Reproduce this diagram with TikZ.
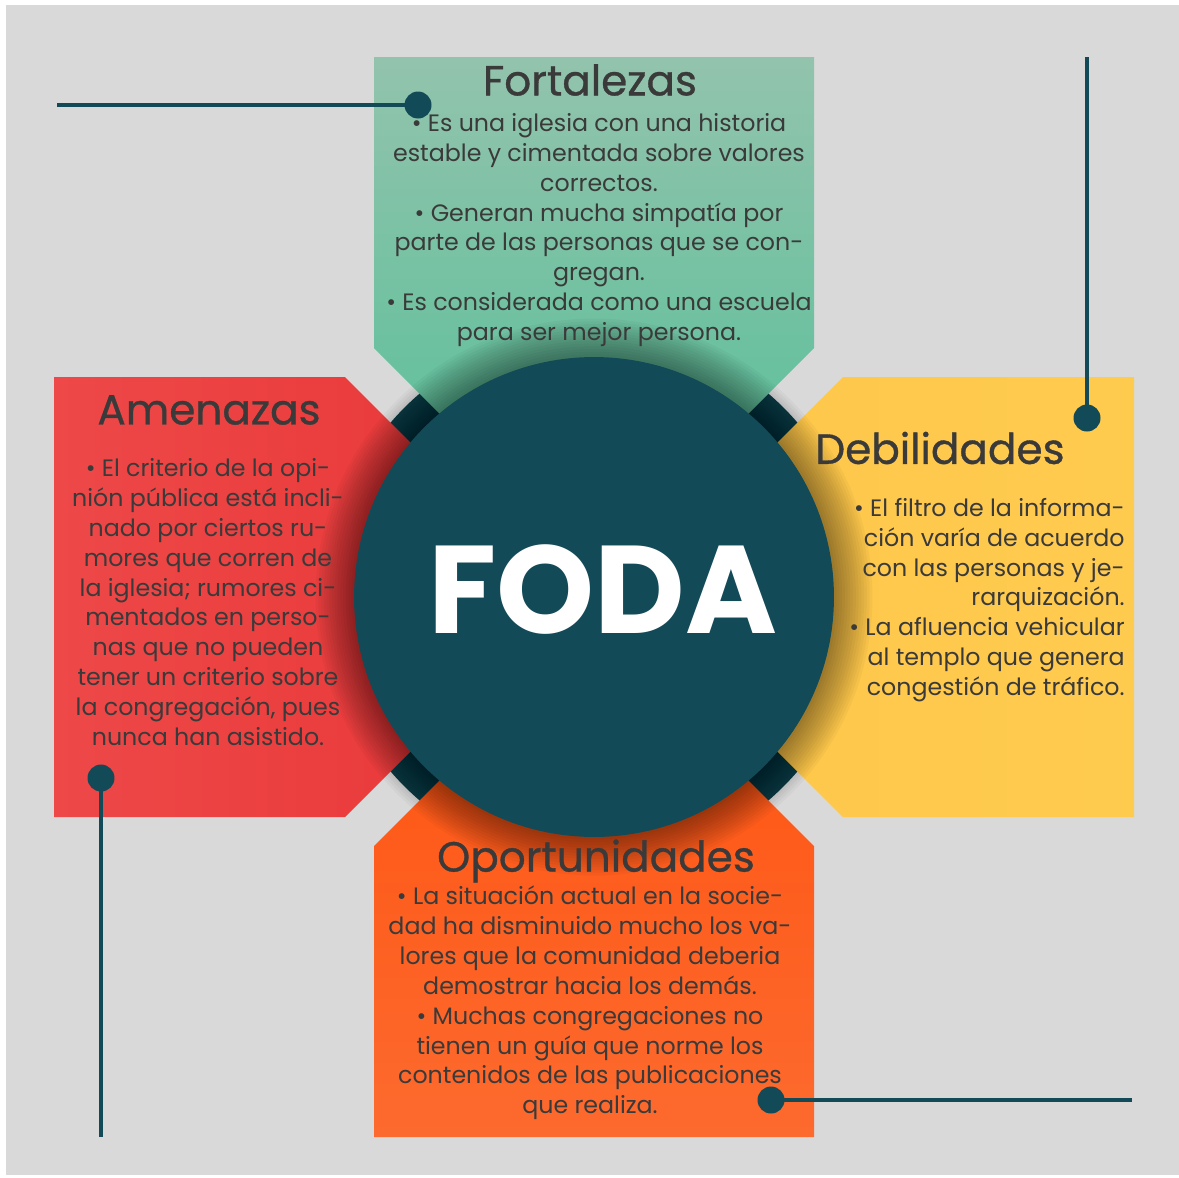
\documentclass[tikz,border=0pt]{standalone}
\usepackage{fontspec}
\setmainfont{Poppins}
\newfontfamily\titlefont{Poppins}[FakeBold=0.8]
\usetikzlibrary{positioning}

\definecolor{fodaTeal}{HTML}{134A57}
\definecolor{fodaRing}{HTML}{0D3B46}
\definecolor{fodaBg}{HTML}{D9D9D9}
\definecolor{fodaInk}{HTML}{3A3A3A}
\definecolor{greenTop}{HTML}{93C3AD}
\definecolor{greenBot}{HTML}{4FC096}
\definecolor{redLeft}{HTML}{EE4848}
\definecolor{redRight}{HTML}{E83536}
\definecolor{yellowLeft}{HTML}{FDC64A}
\definecolor{yellowRight}{HTML}{FFCB4E}
\definecolor{orangeTop}{HTML}{FE520F}
\definecolor{orangeBot}{HTML}{FD6A2E}

\tikzset{
  box title/.style={font=\titlefont\fontsize{24}{28}\selectfont, text=fodaInk, inner sep=0pt},
  box text/.style={font=\fontsize{13.5}{17}\selectfont, text=fodaInk, align=center, inner sep=0pt},
  lead/.style={line width=2.3pt, draw=fodaTeal},
  dot/.style={circle, fill=fodaTeal, inner sep=0pt, minimum size=0.54cm},
}

\begin{document}
\begin{tikzpicture}[x=0.02cm, y=-0.02cm]
    \def\cx{594}    % x of the centre of the cross
    \def\cy{597}    % y of the centre of the cross
    \def\hw{220}    % half width of each arm
    \def\ext{540}   % reach of each arm from the centre
    \def\gap{29}    % offset of the cut corners

    % Calculations
    \pgfmathsetmacro{\hd}{\hw+\gap} % where the cut starts on the side

    % Background
    \fill[white] (0,0) rectangle (1179,1177);
    \fill[fodaBg] (6,5) rectangle (1179,1175);
    \useasboundingbox (0,0) rectangle (1179,1177);

    \begin{scope}[shift={(\cx,\cy)}]
        % dark ring seen between the arms
        \fill[fodaRing] (0,0) circle[radius=5.36cm];

        % the four arms
        \shade[top color=greenTop, bottom color=greenBot]
            (-\hw,-\ext) -- (\hw,-\ext) -- (\hw,-\hd) -- (0,-\gap) -- (-\hw,-\hd) -- cycle;
        \shade[left color=redLeft, right color=redRight]
            (-\ext,-\hw) -- (-\hd,-\hw) -- (-\gap,0) -- (-\hd,\hw) -- (-\ext,\hw) -- cycle;
        \shade[left color=yellowLeft, right color=yellowRight]
            (\ext,-\hw) -- (\hd,-\hw) -- (\gap,0) -- (\hd,\hw) -- (\ext,\hw) -- cycle;
        \shade[top color=orangeTop, bottom color=orangeBot]
            (-\hw,\ext) -- (\hw,\ext) -- (\hw,\hd) -- (0,\gap) -- (-\hw,\hd) -- cycle;

        % soft shadow of the circle
        \foreach \k in {1,...,14} {
            \pgfmathsetmacro{\rr}{4.8+0.055*\k}
            \fill[black, opacity=0.03] (0,0) circle[radius=\rr cm];
        }

        \fill[fodaTeal] (0,0) circle[radius=4.8cm];
    \end{scope}

    \node[font=\fontsize{71}{72}\selectfont\bfseries, text=white, inner sep=0pt] (foda) at (603,590) {FODA};

    % Fortalezas
    \node[box title] (fTitle) at (590,80) {Fortalezas};
    \node[box text] (fText) at (599,230) {%
        • Es una iglesia con una historia\\
        estable y cimentada sobre valores\\
        correctos.\\
        • Generan mucha simpatía por\\
        parte de las personas que se con-\\
        gregan.\\
        • Es considerada como una escuela\\
        para ser mejor persona.};

    % Amenazas
    \node[box title] (aTitle) at (209,410) {Amenazas};
    \node[box text] (aText) at (208,602) {%
        • El criterio de la opi-\\
        nión pública está incli-\\
        nado por ciertos ru-\\
        mores que corren de\\
        la iglesia; rumores ci-\\
        mentados en perso-\\
        nas que no pueden\\
        tener un criterio sobre\\
        la congregación, pues\\
        nunca han asistido.};

    % Debilidades
    \node[box title] (dTitle) at (940,448) {Debilidades};
    \node[box text, align=right, anchor=east] (dText) at (1125,600) {%
        • El filtro de la informa-\\
        ción varía de acuerdo\\
        con las personas y je-\\
        rarquización.\\
        • La afluencia vehicular\\
        al templo que genera\\
        congestión de tráfico.};

    % Oportunidades
    \node[box title] (oTitle) at (596,861) {Oportunidades};
    \node[box text] (oText) at (590,1003) {%
        • La situación actual en la socie-\\
        dad ha disminuido mucho los va-\\
        lores que la comunidad deberia\\
        demostrar hacia los demás.\\
        • Muchas congregaciones no\\
        tienen un guía que norme los\\
        contenidos de las publicaciones\\
        que realiza.};

    % leader lines with their dots
    \coordinate (fEnd) at (57,105);
    \coordinate (dEnd) at (1087,57);
    \coordinate (aEnd) at (101,1137);
    \coordinate (oEnd) at (1132,1100);
    \node[dot] (fDot) at (418,105) {};
    \node[dot] (dDot) at (1087,418) {};
    \node[dot] (aDot) at (101,778) {};
    \node[dot] (oDot) at (771,1100) {};
    \draw[lead] (fEnd) -- (fDot.center);
    \draw[lead] (dEnd) -- (dDot.center);
    \draw[lead] (aDot.center) -- (aEnd);
    \draw[lead] (oDot.center) -- (oEnd);
\end{tikzpicture}
\end{document}
